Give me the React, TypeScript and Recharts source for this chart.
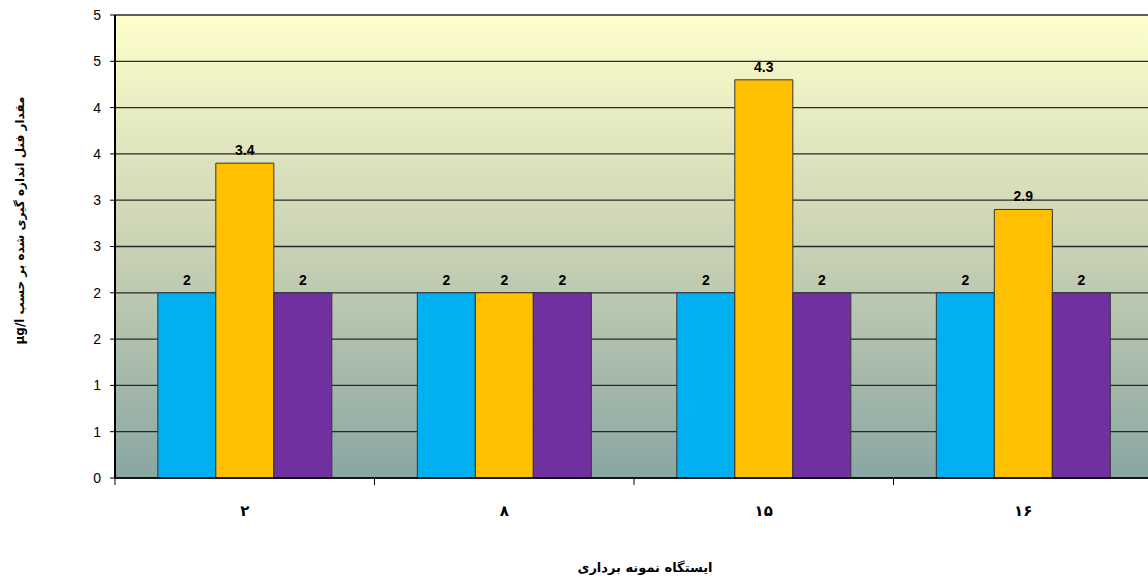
import React from 'react';
import { BarChart, Bar, XAxis, YAxis, CartesianGrid, LabelList, Label } from 'recharts';

// ایستگاه‌های نمونه برداری
const stations = ['۲', '۸', '۱۵', '۱۶'];
const seriesBlue = [2, 2, 2, 2];
const seriesOrange = [3.4, 2, 4.3, 2.9];
const seriesPurple = [2, 2, 2, 2];
const yTicks = [0, 0.5, 1, 1.5, 2, 2.5, 3, 3.5, 4, 4.5, 5];
const boundaryTicks = [0, 1, 2, 3, 4];

const data = stations.map((name, i) => ({
  name,
  pos: i + 0.5,
  blue: seriesBlue[i],
  orange: seriesOrange[i],
  purple: seriesPurple[i],
}));

const numFont = '"Liberation Sans", Arial, sans-serif';
const faFont = '"DejaVu Sans", sans-serif';

const labelStyle = { fontFamily: numFont, fontSize: 14, fontWeight: 700, fill: '#000' };

const YTitle = ({ viewBox }: any) => {
  const x = viewBox.x + 20;
  const y = viewBox.y + viewBox.height / 2 - 26;
  return (
    <text
      transform={`translate(${x},${y}) rotate(-90)`}
      textAnchor="middle"
      dominantBaseline="central"
      direction="rtl"
      style={{
        fontFamily: faFont,
        fontSize: 12,
        fontWeight: 700,
        fill: '#000',
        direction: 'rtl',
        unicodeBidi: 'embed',
      }}
    >
      مقدار فنل اندازه گیری شده بر حسب µg/l
    </text>
  );
};

const XTitle = ({ viewBox }: any) => {
  const x = viewBox.x + viewBox.width / 2 + 11;
  const y = viewBox.y + 81;
  return (
    <text
      x={x}
      y={y}
      textAnchor="middle"
      dominantBaseline="central"
      direction="rtl"
      style={{ fontFamily: faFont, fontSize: 13, fontWeight: 700, fill: '#000' }}
    >
      ایستگاه نمونه برداری
    </text>
  );
};

const NoTick = () => <g />;

export default function App() {
  return (
    <div
      style={{
        position: 'absolute',
        left: 0,
        top: 0,
        width: 1148,
        height: 581,
        overflow: 'hidden',
        background: '#fff',
      }}
    >
      <BarChart
        width={1160}
        height={581}
        data={data}
        margin={{ top: 15, right: 7, left: 0, bottom: 0 }}
        barCategoryGap="16.5%"
        barGap={0}
      >
        <defs>
          <linearGradient id="plotBg" x1="0" y1="0" x2="0" y2="1">
            <stop offset="0%" stopColor="#FFFFCC" />
            <stop offset="50%" stopColor="#C9D2B4" />
            <stop offset="100%" stopColor="#8AA6A3" />
          </linearGradient>
        </defs>
        <CartesianGrid
          xAxisId="b"
          vertical={false}
          fill="url(#plotBg)"
          fillOpacity={1}
          stroke="#2a2a2a"
          strokeWidth={1.3}
        />
        <XAxis
          xAxisId="b"
          dataKey="name"
          height={95}
          axisLine={false}
          tickLine={false}
          tickSize={0}
          tickMargin={19}
          tick={{ fontFamily: faFont, fontSize: 15, fontWeight: 700, fill: '#000' }}
          interval={0}
        >
          <Label content={<XTitle />} />
        </XAxis>
        <XAxis
          xAxisId="a"
          type="number"
          dataKey="pos"
          domain={[0, 4]}
          ticks={boundaryTicks}
          tick={<NoTick />}
          tickSize={7}
          height={8}
          axisLine={{ stroke: '#000', strokeWidth: 1.5 }}
          tickLine={{ stroke: '#000', strokeWidth: 1 }}
          allowDataOverflow
        />
        <YAxis
          width={115}
          domain={[0, 5]}
          ticks={yTicks}
          interval={0}
          tickFormatter={(v: number) => String(Math.round(v))}
          tick={{ fontFamily: numFont, fontSize: 14, fill: '#000' }}
          tickSize={5}
          tickMargin={9}
          axisLine={{ stroke: '#000', strokeWidth: 2 }}
          tickLine={{ stroke: '#000', strokeWidth: 1 }}
        >
          <Label content={<YTitle />} />
        </YAxis>
        <Bar xAxisId="b" dataKey="blue" fill="#00B0F0" stroke="#333" strokeWidth={1} isAnimationActive={false}>
          <LabelList dataKey="blue" position="top" offset={8} style={labelStyle} />
        </Bar>
        <Bar xAxisId="b" dataKey="orange" fill="#FFC000" stroke="#333" strokeWidth={1} isAnimationActive={false}>
          <LabelList dataKey="orange" position="top" offset={8} style={labelStyle} />
        </Bar>
        <Bar xAxisId="b" dataKey="purple" fill="#7030A0" stroke="#333" strokeWidth={1} isAnimationActive={false}>
          <LabelList dataKey="purple" position="top" offset={8} style={labelStyle} />
        </Bar>
      </BarChart>
    </div>
  );
}
